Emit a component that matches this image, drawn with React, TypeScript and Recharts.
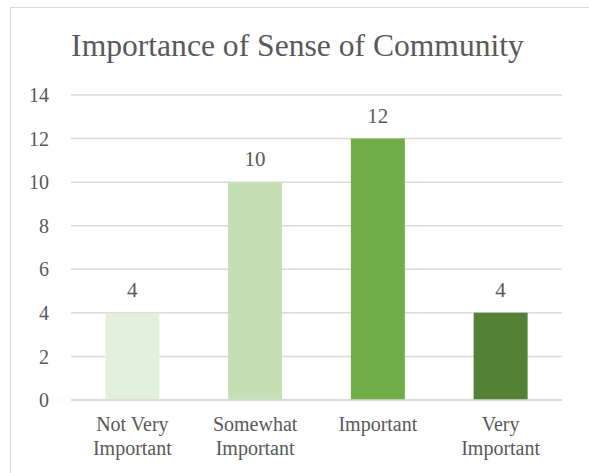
import React from 'react';
import { BarChart, Bar, XAxis, YAxis, CartesianGrid, Cell, LabelList } from 'recharts';

const categories = ['Not Very Important', 'Somewhat Important', 'Important', 'Very Important'];
const counts = [4, 10, 12, 4];
const barColors = ['#E2EFDA', '#C5E0B4', '#70AD47', '#538135'];
const yTicks = [0, 2, 4, 6, 8, 10, 12, 14];
const title = 'Importance of Sense of Community';

const data = categories.map((c, i) => ({ name: c, value: counts[i] }));

const FONT = "'Liberation Serif', 'DejaVu Serif', serif";
const TEXT = '#595959';

const CategoryTick = (props: any) => {
  const { x, y, payload } = props;
  const words = String(payload.value).split(' ');
  const lines = words.length > 1 ? [words.slice(0, -1).join(' '), words[words.length - 1]] : words;
  return (
    <text x={x} y={y} textAnchor="middle" fill={TEXT} fontSize={20} fontFamily={FONT}>
      {lines.map((l, i) => (
        <tspan key={i} x={x} dy={i === 0 ? '0.71em' : 24}>
          {l}
        </tspan>
      ))}
    </text>
  );
};

export default function App() {
  return (
    <div style={{ position: 'fixed', left: 0, top: 0, width: 589, height: 473, overflow: 'hidden', background: '#fff' }}>
      <div
        style={{
          position: 'absolute',
          left: 10,
          top: 7,
          width: 620,
          height: 520,
          border: '1.5px solid #D9D9D9',
          boxSizing: 'border-box',
        }}
      />
      <div
        style={{
          position: 'absolute',
          left: 0,
          top: 30,
          width: 595,
          textAlign: 'center',
          fontFamily: FONT,
          fontSize: 31.6,
          lineHeight: '31px',
          color: TEXT,
          whiteSpace: 'nowrap',
        }}
      >
        {title}
      </div>
      <div style={{ position: 'absolute', left: 0, top: 0 }}>
        <BarChart
          width={589}
          height={473}
          data={data}
          margin={{ top: 95, right: 27, bottom: 0, left: 0 }}
          barCategoryGap="28%"
        >
          <CartesianGrid vertical={false} stroke="#D9D9D9" strokeWidth={1.5} />
          <XAxis
            dataKey="name"
            height={73}
            axisLine={{ stroke: '#D9D9D9', strokeWidth: 1.5 }}
            tickLine={false}
            tickSize={0}
            tickMargin={17}
            interval={0}
            tick={<CategoryTick />}
          />
          <YAxis
            width={71}
            domain={[0, 14]}
            ticks={yTicks}
            axisLine={false}
            tickLine={false}
            tickSize={0}
            tickMargin={22}
            tick={{ fill: TEXT, fontSize: 20, fontFamily: FONT }}
          />
          <Bar dataKey="value" isAnimationActive={false}>
            {data.map((d, i) => (
              <Cell key={d.name} fill={barColors[i]} />
            ))}
            <LabelList dataKey="value" position="top" offset={16} fill={TEXT} fontSize={21} fontFamily={FONT} />
          </Bar>
        </BarChart>
      </div>
    </div>
  );
}
